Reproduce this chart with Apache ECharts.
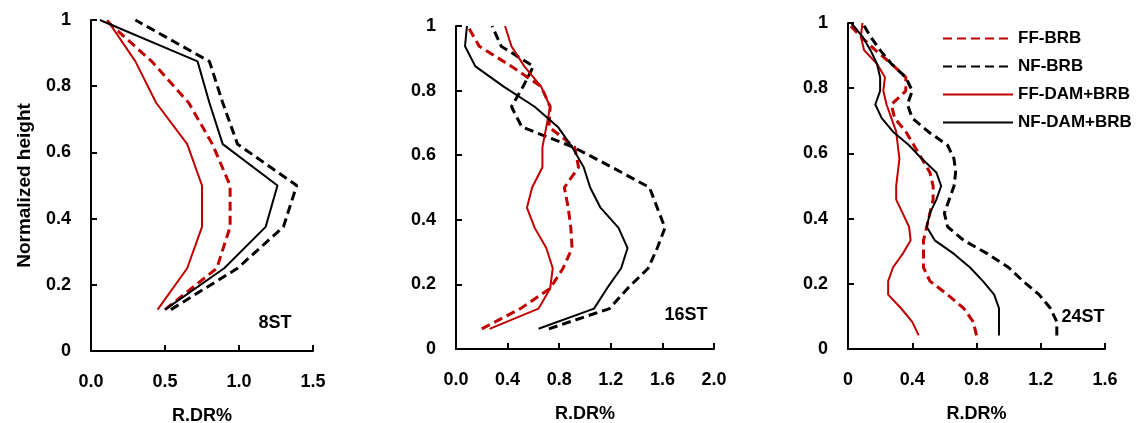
<!DOCTYPE html>
<html>
<head>
<meta charset="utf-8">
<script src="https://cdn.jsdelivr.net/npm/echarts@6/dist/echarts.min.js"></script>
<style>
html,body{margin:0;padding:0;background:#fff;}
#c{width:1141px;height:423px;}
</style>
</head>
<body>
<div id="c"></div>
<script>
// ---------- data ----------
const seriesNames = ['FF-BRB', 'NF-BRB', 'FF-DAM+BRB', 'NF-DAM+BRB'];
const panelLabels = ['8ST', '16ST', '24ST'];

// 8ST (normalized heights of storeys)
const h8 = [0.125, 0.25, 0.375, 0.5, 0.625, 0.75, 0.875, 1];
const ffBrb8   = [0.50, 0.85, 0.94, 0.94, 0.82, 0.66, 0.41, 0.10];
const nfBrb8   = [0.54, 0.99, 1.30, 1.39, 0.99, 0.89, 0.80, 0.30];
const ffDam8   = [0.45, 0.65, 0.75, 0.75, 0.65, 0.44, 0.30, 0.11];
const nfDam8   = [0.50, 0.90, 1.18, 1.26, 0.89, 0.80, 0.72, 0.06];

// 16ST
const h16 = [0.0625, 0.125, 0.1875, 0.25, 0.3125, 0.375, 0.4375, 0.5, 0.5625, 0.625, 0.6875, 0.75, 0.8125, 0.875, 0.9375, 1];
const ffBrb16  = [0.20, 0.50, 0.73, 0.83, 0.90, 0.89, 0.87, 0.84, 0.95, 0.92, 0.72, 0.73, 0.66, 0.43, 0.18, 0.09];
const nfBrb16  = [0.72, 1.19, 1.33, 1.49, 1.56, 1.62, 1.56, 1.50, 1.21, 0.91, 0.51, 0.43, 0.52, 0.60, 0.35, 0.28];
const ffDam16  = [0.26, 0.64, 0.73, 0.75, 0.70, 0.61, 0.55, 0.59, 0.67, 0.67, 0.70, 0.73, 0.66, 0.53, 0.43, 0.38];
const nfDam16  = [0.64, 1.07, 1.17, 1.28, 1.33, 1.26, 1.12, 1.04, 0.99, 0.90, 0.79, 0.61, 0.37, 0.15, 0.07, 0.085];

// 24ST
const h24 = [0.0417, 0.0833, 0.125, 0.1667, 0.2083, 0.25, 0.2917, 0.3333, 0.375, 0.4167, 0.4583, 0.5,
             0.5417, 0.5833, 0.625, 0.6667, 0.7083, 0.75, 0.7917, 0.8333, 0.875, 0.9167, 0.9583, 1];
const ffBrb24  = [0.80, 0.78, 0.72, 0.62, 0.51, 0.47, 0.47, 0.47, 0.49, 0.51, 0.53, 0.53,
                  0.51, 0.46, 0.41, 0.36, 0.29, 0.27, 0.36, 0.36, 0.27, 0.17, 0.08, 0.00];
const nfBrb24  = [1.30, 1.30, 1.26, 1.19, 1.09, 1.00, 0.87, 0.72, 0.62, 0.60, 0.63, 0.66,
                  0.67, 0.66, 0.62, 0.50, 0.40, 0.37, 0.40, 0.36, 0.27, 0.20, 0.14, 0.09];
const ffDam24  = [0.44, 0.40, 0.33, 0.25, 0.25, 0.28, 0.34, 0.39, 0.38, 0.34, 0.30, 0.30,
                  0.31, 0.32, 0.31, 0.30, 0.27, 0.24, 0.22, 0.23, 0.18, 0.10, 0.08, 0.09];
const nfDam24  = [0.94, 0.94, 0.94, 0.91, 0.84, 0.76, 0.66, 0.54, 0.49, 0.51, 0.55, 0.58,
                  0.55, 0.46, 0.38, 0.28, 0.21, 0.17, 0.20, 0.20, 0.18, 0.14, 0.09, 0.02];

// axis ticks
const xTicks1 = ['0.0', '0.5', '1.0', '1.5'];
const xTicks2 = ['0.0', '0.4', '0.8', '1.2', '1.6', '2.0'];
const xTicks3 = ['0', '0.4', '0.8', '1.2', '1.6'];
const yTicks  = ['0', '0.2', '0.4', '0.6', '0.8', '1'];

// ---------- chart ----------
const FONT = '"Liberation Sans"';
const FS = 18;
const RED = '#C00000';
const BLK = '#000000';
const panels = [
  { h: h8,  data: [ffBrb8, nfBrb8, ffDam8, nfDam8],     max: 1.5, interval: 0.5, ticks: xTicks1,
    grid: { left: 91, top: 20, width: 222, height: 331 } },
  { h: h16, data: [ffBrb16, nfBrb16, ffDam16, nfDam16], max: 2.0, interval: 0.4, ticks: xTicks2,
    grid: { left: 456, top: 26, width: 258, height: 323 } },
  { h: h24, data: [ffBrb24, nfBrb24, ffDam24, nfDam24], max: 1.6, interval: 0.4, ticks: xTicks3,
    grid: { left: 848, top: 23, width: 257, height: 326 } }
];
const styles = [
  { color: RED, type: [9, 5], width: 3 },
  { color: BLK, type: [9, 5], width: 3 },
  { color: RED, type: 'solid', width: 2 },
  { color: BLK, type: 'solid', width: 2 }
];

const grids = [], xAxes = [], yAxes = [], series = [];
panels.forEach((p, i) => {
  grids.push(Object.assign({ containLabel: false, outerBoundsMode: 'none' }, p.grid));
  xAxes.push({
    type: 'value', gridIndex: i, min: 0, max: p.max, interval: p.interval,
    axisLine: { show: true, lineStyle: { color: '#000', width: 2 } },
    axisTick: { show: true, inside: true, length: 6, lineStyle: { color: '#000', width: 2 } },
    splitLine: { show: false },
    axisLabel: {
      color: '#000', fontFamily: FONT, fontWeight: 'bold', fontSize: FS, margin: 22,
      formatter: (v) => p.ticks[Math.round(v / p.interval)]
    },
    name: 'R.DR%', nameLocation: 'middle', nameGap: 56,
    nameTextStyle: { color: '#000', fontFamily: FONT, fontWeight: 'bold', fontSize: FS }
  });
  yAxes.push({
    type: 'value', gridIndex: i, min: 0, max: 1, interval: 0.2,
    axisLine: { show: true, lineStyle: { color: '#000', width: 2 } },
    axisTick: { show: true, inside: true, length: 6, lineStyle: { color: '#000', width: 2 } },
    splitLine: { show: false },
    axisLabel: {
      color: '#000', fontFamily: FONT, fontWeight: 'bold', fontSize: FS, margin: 20,
      formatter: (v) => yTicks[Math.round(v / 0.2)]
    },
    name: i === 0 ? 'Normalized height' : '', nameLocation: 'middle', nameGap: 57,
    nameTextStyle: { color: '#000', fontFamily: FONT, fontWeight: 'bold', fontSize: 19 }
  });
  p.data.forEach((vals, s) => {
    series.push({
      name: seriesNames[s], type: 'line', xAxisIndex: i, yAxisIndex: i,
      data: vals.map((v, k) => [v, p.h[k]]),
      symbol: 'none', smooth: false, silent: true,
      lineStyle: { color: styles[s].color, type: styles[s].type, width: styles[s].width },
      itemStyle: { color: styles[s].color },
      z: s === 3 || s === 2 ? 3 : 2
    });
  });
});

const chart = echarts.init(document.getElementById('c'), null, { renderer: 'canvas' });
chart.setOption({
  animation: false,
  backgroundColor: '#fff',
  grid: grids,
  xAxis: xAxes,
  yAxis: yAxes,
  series: series,
  legend: {
    show: true,
    data: seriesNames, orient: 'vertical', left: 942, top: 30, padding: 0,
    itemWidth: 70, itemHeight: 18, itemGap: 11,
    itemStyle: { opacity: 0 },
    textStyle: { color: '#000', fontFamily: FONT, fontWeight: 'bold', fontSize: 17 },
    selectedMode: false
  },
  graphic: [
    { type: 'text', x: 275, y: 323, style: { text: panelLabels[0], fill: '#000', font: 'bold 18px "Liberation Sans"', align: 'center', verticalAlign: 'middle' } },
    { type: 'text', x: 686, y: 315, style: { text: panelLabels[1], fill: '#000', font: 'bold 18px "Liberation Sans"', align: 'center', verticalAlign: 'middle' } },
    { type: 'text', x: 1083, y: 317, style: { text: panelLabels[2], fill: '#000', font: 'bold 18px "Liberation Sans"', align: 'center', verticalAlign: 'middle' } }
  ]
});
</script>
</body>
</html>
